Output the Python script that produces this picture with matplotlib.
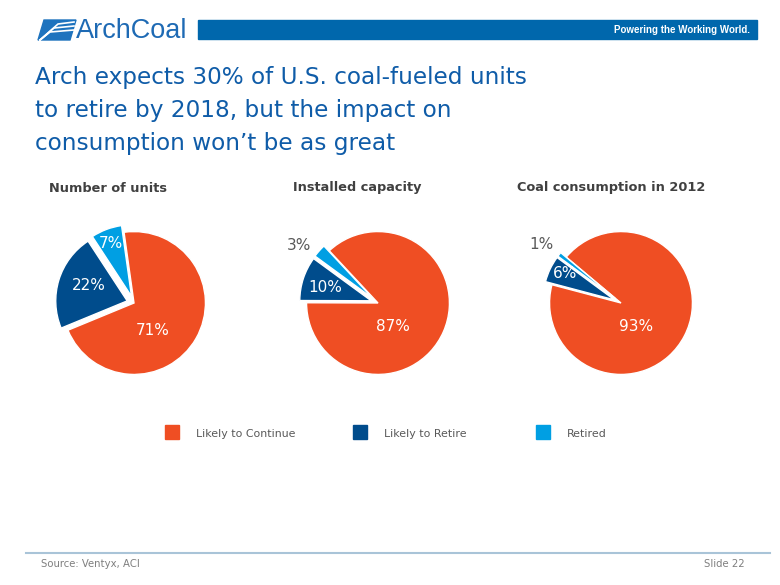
import matplotlib.pyplot as plt
from matplotlib.patches import Rectangle, Polygon
from matplotlib.lines import Line2D

W, H = 780, 585

# ── data ───────────────────────────────────────────────────────────────────
chart_titles = ['Number of units', 'Installed capacity', 'Coal consumption in 2012']
categories   = ['Likely to Continue', 'Likely to Retire', 'Retired']
units        = [71, 22, 7]
capacity     = [87, 10, 3]
consumption  = [93, 6, 1]
series       = [units, capacity, consumption]

colors = ['#EF4E23', '#004C8C', '#009FE3']

# ── layout (pixels in the 780x585 slide) ───────────────────────────────────
centres     = [(134, 303), (378, 303), (621, 303)]
startangles = [98, 133, 140]
explode     = [0, 0.1, 0.1]
# label positions in pie radius units, per slice
label_pos = [
    [(0.26, -0.38), (-0.63, 0.25), (-0.32, 0.83)],
    [(0.21, -0.33), (-0.74, 0.22), (-1.10, 0.80)],
    [(0.21, -0.33), (-0.78, 0.42), (-1.12, 0.82)],
]
outside = [[False, False, False], [False, False, True], [False, False, True]]


def fx(x):
    return x / W


def fy(y):
    return 1 - y / H


fig = plt.figure(figsize=(W / 100, H / 100), dpi=100)
fig.patch.set_facecolor('white')

# ── header ─────────────────────────────────────────────────────────────────
fig.patches.append(Rectangle((fx(198), fy(39)), fx(757) - fx(198), fy(20) - fy(39),
                             transform=fig.transFigure, color='#0067AC', zorder=1))
fig.text(fx(750), fy(30), 'Powering the Working World.', color='white',
         fontsize=7, fontweight='bold', family='Liberation Sans',
         ha='right', va='center')

# logo icon
fig.patches.append(Polygon([(fx(44), fy(20)), (fx(76), fy(20)), (fx(70), fy(40)), (fx(38), fy(40))],
                           closed=True, transform=fig.transFigure, color='#1E73BE', zorder=2))
for y0, x1 in [(24, 58), (28, 54), (32, 50)]:
    fig.lines.append(Line2D([fx(40), fx(x1), fx(74)], [fy(40), fy(y0), fy(y0 - 2)],
                            transform=fig.transFigure, color='white', lw=1.2, zorder=3))
fig.text(fx(76), fy(31), 'ArchCoal', color='#1E6AB4', fontsize=19.5,
         family='Liberation Sans', ha='left', va='center')

# ── title ──────────────────────────────────────────────────────────────────
title_lines = ['Arch expects 30% of U.S. coal-fueled units',
               'to retire by 2018, but the impact on',
               'consumption won\u2019t be as great']
for i, line in enumerate(title_lines):
    fig.text(fx(35), fy(84 + 33 * i), line, color='#0F5CA8', fontsize=16.7,
             ha='left', va='baseline')

# ── pies ───────────────────────────────────────────────────────────────────
for k, values in enumerate(series):
    cx, cy = centres[k]
    ax = fig.add_axes([fx(cx - 100), fy(cy + 100), 200 / W, 200 / H])
    wedges, texts, autotexts = ax.pie(
        values, colors=colors, startangle=startangles[k], counterclock=False,
        explode=explode, autopct='%.0f%%',
        wedgeprops=dict(edgecolor='white', linewidth=1),
        textprops=dict(fontsize=11, color='white'))
    for j, t in enumerate(autotexts):
        t.set_position(label_pos[k][j])
        if outside[k][j]:
            t.set_color('#595959')
    ax.set_xlim(-1.4, 1.4)
    ax.set_ylim(-1.4, 1.4)
    ax.set_aspect('equal')
    ax.axis('off')

    fig.text(fx(cx - 85 if k < 2 else cx - 104), fy(188), chart_titles[k],
             color='#404040', fontsize=9.3, fontweight='bold',
             ha='left', va='center')

# ── legend ─────────────────────────────────────────────────────────────────
legend_x = [172, 360, 543]
for j, name in enumerate(categories):
    x0 = legend_x[j]
    fig.patches.append(Rectangle((fx(x0 - 7), fy(439)), 14 / W, 14 / H,
                                 transform=fig.transFigure, color=colors[j]))
    fig.text(fx(x0 + 24), fy(434), name, color='#595959', fontsize=7.9,
             ha='left', va='center')

# ── footer ─────────────────────────────────────────────────────────────────
fig.lines.append(Line2D([fx(26), fx(770)], [fy(553), fy(553)],
                        transform=fig.transFigure, color='#A9C4D8', lw=1.5))
fig.text(fx(41), fy(564), 'Source: Ventyx, ACI', color='#7F7F7F', fontsize=7.3,
         ha='left', va='center')
fig.text(fx(745), fy(564), 'Slide 22', color='#7F7F7F', fontsize=7.3,
         ha='right', va='center')

fig.savefig('out.png', dpi=100)
